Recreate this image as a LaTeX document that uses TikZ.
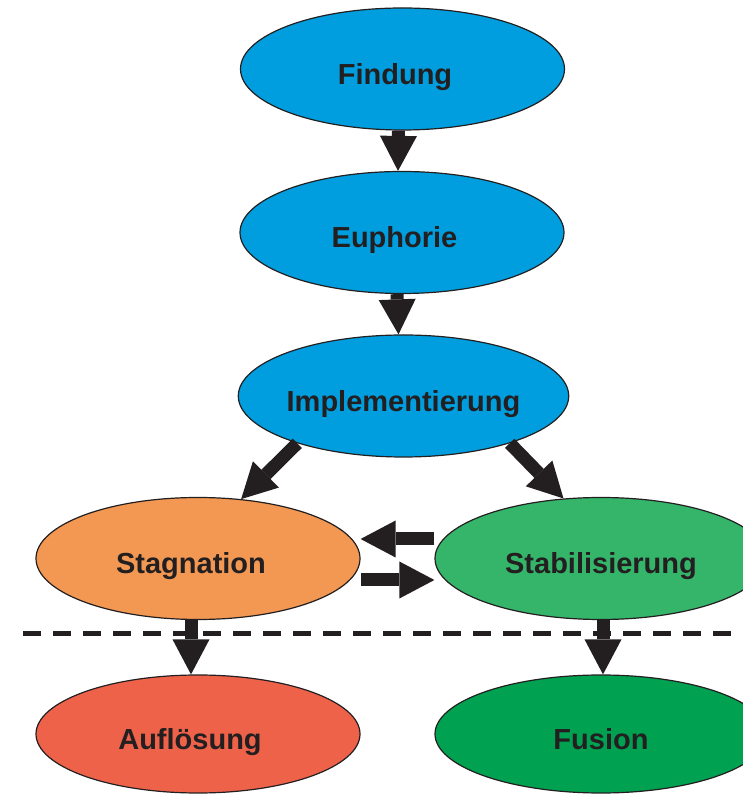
\documentclass[tikz,border=0pt]{standalone}
\usepackage{fontspec}
\setmainfont{Liberation Sans}
\usetikzlibrary{arrows.meta,shapes.geometric}
\definecolor{cblue}{RGB}{0,158,222}
\definecolor{corange}{RGB}{243,152,82}
\definecolor{cgreenA}{RGB}{53,181,106}
\definecolor{cred}{RGB}{239,98,74}
\definecolor{cgreenB}{RGB}{0,161,80}
\definecolor{cink}{RGB}{35,31,32}
\begin{document}
\begin{tikzpicture}[x=1pt,y=1pt,
  phase/.style={ellipse, draw=cink, line width=1.2pt, inner sep=0pt,
    minimum width=324pt, minimum height=122pt,
    font=\fontsize{29}{30}\selectfont\bfseries, text=cink,
    text height=31pt, text depth=0pt},
  wide/.style={minimum width=332pt},
  bigarrow/.style={draw=cink, line width=13pt,
    -{Triangle[width=37pt,length=35pt,line width=0pt]}},
  sepline/.style={draw=cink, line width=5pt, dash pattern=on 18pt off 12pt}
]
\useasboundingbox (0,0) rectangle (743,795);
\clip (0,0) rectangle (743,795);

\node[phase, fill=cblue] (find) at (402.5,726) {\hspace*{-15pt}Findung};
\node[phase, fill=cblue] (euph) at (402,562.5) {\hspace*{-15pt}Euphorie};
\node[phase, fill=cblue] (impl) at (403.5,399) {Implementierung};
\node[phase, fill=corange] (stag) at (198,236.5) {\hspace*{-14pt}Stagnation};
\node[phase, wide, fill=cgreenA] (stab) at (601,236.5) {Stabilisierung};
\node[phase, minimum height=118pt, fill=cred] (aufl) at (198,61) {\hspace*{-16pt}Auflösung};
\node[phase, wide, minimum height=118pt, fill=cgreenB] (fus) at (601,61) {Fusion};

\coordinate (dl) at (23,161);
\coordinate (dr) at (760,161);
\draw[sepline] (dl) -- (dr);

\draw[bigarrow] ([xshift=-4pt]find.south) -- ([xshift=-4pt]euph.north);
\draw[bigarrow] ([xshift=-5pt]euph.south) -- ([xshift=-5pt]impl.north);
\draw[bigarrow] (impl.204) -- (stag.54);
\draw[bigarrow] (impl.336) -- (stab.122);
\draw[bigarrow] ([yshift=19.5pt]stab.west) -- ([yshift=19.5pt]stag.east);
\draw[bigarrow] ([yshift=-21.5pt]stag.east) -- ([yshift=-21.5pt]stab.west);
\draw[bigarrow] ([xshift=-7pt]stag.south) -- ([xshift=-7pt]aufl.north);
\draw[bigarrow] ([xshift=2pt]stab.south) -- ([xshift=2pt]fus.north);
\end{tikzpicture}
\end{document}
